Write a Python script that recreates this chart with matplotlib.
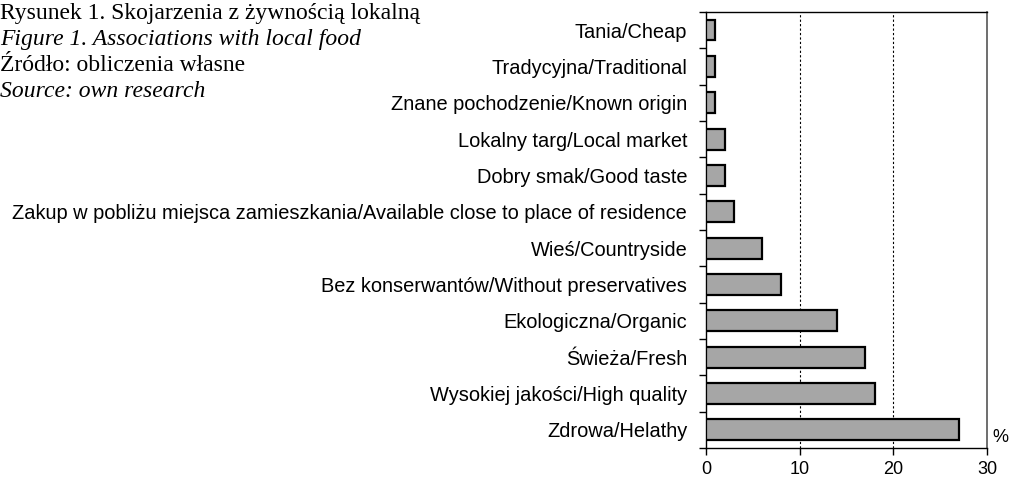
import matplotlib.pyplot as plt
import numpy as np

categories = [
    "Zdrowa/Helathy",
    "Wysokiej jakości/High quality",
    "Świeża/Fresh",
    "Ekologiczna/Organic",
    "Bez konserwantów/Without preservatives",
    "Wieś/Countryside",
    "Zakup w pobliżu miejsca zamieszkania/Available close to place of residence",
    "Dobry smak/Good taste",
    "Lokalny targ/Local market",
    "Znane pochodzenie/Known origin",
    "Tradycyjna/Traditional",
    "Tania/Cheap",
]
values = [27, 18, 17, 14, 8, 6, 3, 2, 2, 1, 1, 1]
x_ticks = [0, 10, 20, 30]

fig = plt.figure(figsize=(10.12, 4.79), dpi=100)
ax = fig.add_axes([0.6976, 0.0647, 0.2777, 0.9103])

y = np.arange(len(categories))
ax.barh(y, values, height=0.57, color="#A6A6A6", edgecolor="black", linewidth=1.6, zorder=3)

ax.set_xlim(0, 30)
ax.set_ylim(-0.5, len(categories) - 0.5)
ax.set_xticks(x_ticks)
ax.set_xticklabels([str(t) for t in x_ticks], family="Liberation Sans", fontsize=13)
ax.tick_params(axis="x", direction="out", length=5, width=1, pad=4)

ax.set_yticks(y)
ax.set_yticklabels(categories, family="Liberation Sans", fontsize=14.4)
ax.tick_params(axis="y", which="major", length=0, pad=13.5)
ax.set_yticks(np.arange(-0.5, len(categories)), minor=True)
ax.tick_params(axis="y", which="minor", direction="out", length=5, width=1)

for t in x_ticks[1:3]:
    ax.axvline(t, color="black", linestyle=(0, (2, 2)), linewidth=0.8, zorder=1)

ax.spines["right"].set_linestyle((0, (2, 1)))
ax.spines["right"].set_color("#555555")
ax.spines["right"].set_linewidth(1.2)
for s in ["left", "bottom", "top"]:
    ax.spines[s].set_linewidth(1)

fig.text(992 / 1012, 1 - 438 / 479, "%", family="Liberation Sans", fontsize=13,
         ha="left", va="center")

title_lines = [
    ("Rysunek 1. Skojarzenia z żywnością lokalną", "normal"),
    ("Figure 1. Associations with local food", "italic"),
    ("Źródło: obliczenia własne", "normal"),
    ("Source: own research", "italic"),
]
for i, (txt, st) in enumerate(title_lines):
    fig.text(0.0, 1 - (13 + 26.3 * i) / 479, txt, family="Liberation Serif",
             style=st, fontsize=17, ha="left", va="center")

fig.savefig("out.png", dpi=100)
